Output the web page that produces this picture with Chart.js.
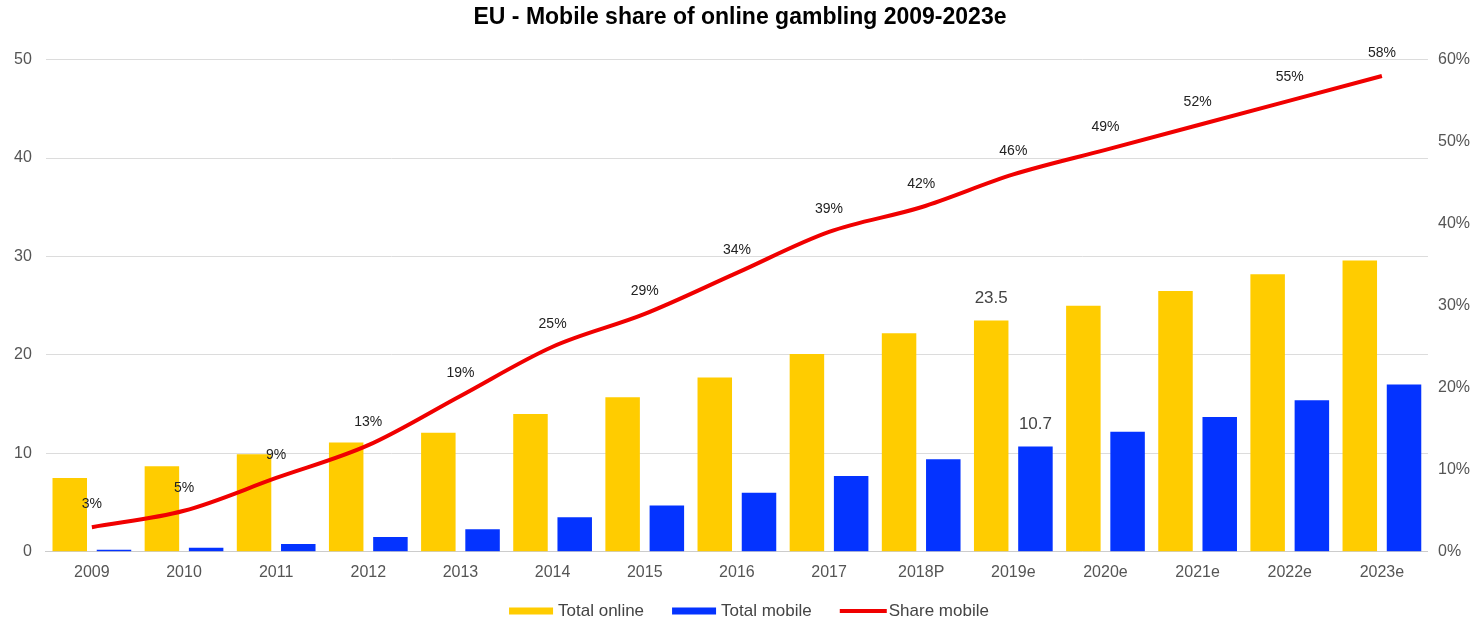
<!DOCTYPE html>
<html>
<head>
<meta charset="utf-8">
<script src="https://cdn.jsdelivr.net/npm/chart.js@4"></script>
<style>
  html, body { margin: 0; padding: 0; background: #fff; }
  #wrap { width: 1482px; height: 619px; }
</style>
</head>
<body>
<div id="wrap"><canvas id="chart"></canvas></div>
<script>
const years = ['2009', '2010', '2011', '2012', '2013', '2014', '2015', '2016', '2017', '2018P', '2019e', '2020e', '2021e', '2022e', '2023e'];
const totalOnline = [7.5, 8.7, 9.9, 11.1, 12.1, 14.0, 15.7, 17.7, 20.1, 22.2, 23.5, 25.0, 26.5, 28.2, 29.6];
const totalMobile = [0.2, 0.4, 0.8, 1.5, 2.3, 3.5, 4.7, 6.0, 7.7, 9.4, 10.7, 12.2, 13.7, 15.4, 17.0];
const shareMobile = [3, 5, 9, 13, 19, 25, 29, 34, 39, 42, 46, 49, 52, 55, 58];
const leftTicks = [0, 10, 20, 30, 40, 50];
const rightTicks = [0, 10, 20, 30, 40, 50, 60];
// only 2019e carries value labels on the bars
const labelledYear = '2019e';

const FONT = '"Liberation Sans", Arial, sans-serif';

// value labels: percentages above the line, figures above the 2019e bars
const valueLabels = {
  id: 'valueLabels',
  afterDatasetsDraw(chart) {
    const ctx = chart.ctx;
    ctx.save();
    ctx.textAlign = 'center';
    ctx.textBaseline = 'middle';

    const lineMeta = chart.getDatasetMeta(2);
    ctx.font = '14px ' + FONT;
    ctx.fillStyle = '#222';
    lineMeta.data.forEach((pt, i) => {
      ctx.fillText(shareMobile[i] + '%', pt.x, pt.y - 23);
    });

    const idx = years.indexOf(labelledYear);
    ctx.font = '17px ' + FONT;
    ctx.fillStyle = '#444';
    [0, 1].forEach(d => {
      const bar = chart.getDatasetMeta(d).data[idx];
      const v = chart.data.datasets[d].data[idx];
      ctx.fillText(v.toFixed(1), bar.x, bar.y - 22);
    });
    ctx.restore();
  }
};

// bottom legend: wide swatch + label, items spaced apart, centred under the plot
const bottomLegend = {
  id: 'bottomLegend',
  afterDraw(chart) {
    const ctx = chart.ctx;
    const sets = chart.data.datasets;
    const boxW = 44, gap = 5, spacing = 28;
    ctx.save();
    ctx.font = '17px ' + FONT;
    ctx.textBaseline = 'middle';
    const widths = sets.map(ds => boxW + gap + ctx.measureText(ds.label).width);
    const total = widths.reduce((a, b) => a + b, 0) + spacing * (sets.length - 1);
    let x = chart.width / 2 + 8 - total / 2;
    const y = chart.height - 8;
    sets.forEach((ds, i) => {
      ctx.fillStyle = ds.type === 'line' ? ds.borderColor : ds.backgroundColor;
      if (ds.type === 'line') {
        ctx.fillRect(x, y - 2, boxW + 3, 4);
      } else {
        ctx.fillRect(x, y - 3.5, boxW, 7);
      }
      ctx.fillStyle = '#444';
      ctx.fillText(ds.label, x + boxW + gap, y);
      x += widths[i] + spacing;
    });
    ctx.restore();
  }
};

new Chart(document.getElementById('chart'), {
  type: 'bar',
  data: {
    labels: years,
    datasets: [
      {
        label: 'Total online',
        data: totalOnline,
        backgroundColor: '#FFCC00',
        yAxisID: 'y',
        categoryPercentage: 0.96,
        barPercentage: 0.78
      },
      {
        label: 'Total mobile',
        data: totalMobile,
        backgroundColor: '#0433FF',
        yAxisID: 'y',
        categoryPercentage: 0.96,
        barPercentage: 0.78
      },
      {
        type: 'line',
        label: 'Share mobile',
        data: shareMobile,
        borderColor: '#F00000',
        backgroundColor: '#F00000',
        borderWidth: 4,
        pointRadius: 0,
        tension: 0.4,
        cubicInterpolationMode: 'monotone',
        yAxisID: 'y1',
        order: -1
      }
    ]
  },
  options: {
    responsive: true,
    maintainAspectRatio: false,
    animation: false,
    layout: { padding: { left: 0, right: 2, top: 0, bottom: 26 } },
    plugins: {
      title: {
        display: true,
        text: 'EU - Mobile share of online gambling 2009-2023e',
        color: '#000',
        font: { family: FONT, size: 23, weight: 'bold' },
        padding: { top: 4, bottom: 28 }
      },
      legend: { display: false },
      tooltip: { enabled: false }
    },
    scales: {
      x: {
        grid: { display: false, drawTicks: false },
        border: { display: true, color: '#ccc' },
        ticks: { color: '#555', font: { family: FONT, size: 16 }, padding: 11 }
      },
      y: {
        position: 'left',
        min: 0,
        max: 50,
        afterBuildTicks: axis => { axis.ticks = leftTicks.map(v => ({ value: v })); },
        grid: { color: '#dcdcdc', drawTicks: false },
        border: { display: false },
        ticks: { color: '#555', font: { family: FONT, size: 16 }, padding: 14 }
      },
      y1: {
        position: 'right',
        min: 0,
        max: 60,
        afterBuildTicks: axis => { axis.ticks = rightTicks.map(v => ({ value: v })); },
        grid: { display: false, drawTicks: false },
        border: { display: false },
        ticks: {
          color: '#555',
          font: { family: FONT, size: 16 },
          padding: 10,
          callback: v => v + '%'
        }
      }
    }
  },
  plugins: [valueLabels, bottomLegend]
});
</script>
</body>
</html>
